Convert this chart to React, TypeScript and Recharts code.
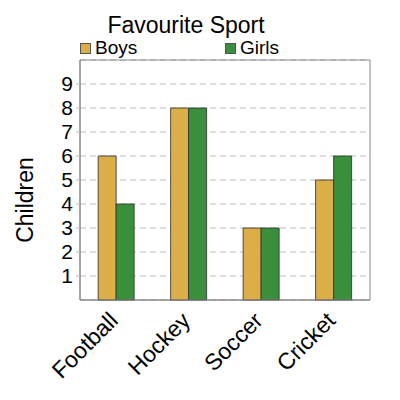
import React from 'react';
import { BarChart, Bar, XAxis, YAxis, CartesianGrid, ReferenceArea } from 'recharts';

const categories = ['Football', 'Hockey', 'Soccer', 'Cricket'];
const boys = [6, 8, 3, 5];
const girls = [4, 8, 3, 6];
const seriesNames = ['Boys', 'Girls'];
const seriesColors = ['#dcae48', '#3a8f3a'];
const yTicks = [1, 2, 3, 4, 5, 6, 7, 8, 9];
const title = 'Favourite Sport';
const yLabel = 'Children';

const data = categories.map((c, i) => ({ name: c, boys: boys[i], girls: girls[i] }));

const FONT = '"Liberation Sans", Arial, sans-serif';

const XTick = (props: any) => {
  const { x, y, payload } = props;
  return (
    <g transform={`translate(${x + 3},${y + 22})`}>
      <text x={0} y={0} textAnchor="end" transform="rotate(-45)" fontSize={23} fill="#000" fontFamily={FONT}>
        {payload.value}
      </text>
    </g>
  );
};

export default function App() {
  return (
    <div style={{ position: 'absolute', left: 0, top: 0, width: 400, height: 400, background: '#fff', fontFamily: FONT }}>
      <div style={{ position: 'absolute', left: 0, width: 372, top: 12, textAlign: 'center', fontSize: 23, lineHeight: '26px', color: '#000' }}>
        {title}
      </div>
      {seriesNames.map((n, i) => (
        <div key={n} style={{ position: 'absolute', left: 80 + i * 145, top: 37, height: 22, display: 'flex', alignItems: 'center', fontSize: 19, color: '#000' }}>
          <span style={{ display: 'inline-block', width: 9, height: 9, background: seriesColors[i], border: '1px solid #555', marginRight: 4 }} />
          <span>{n}</span>
        </div>
      ))}
      <BarChart width={400} height={400} data={data} margin={{ top: 60, right: 30, bottom: 0, left: 0 }} barCategoryGap="25%" barGap={0}>
        <CartesianGrid vertical={false} horizontal={true} stroke="#bbb" strokeDasharray="6 4" />
        <XAxis dataKey="name" height={100} tick={<XTick />} tickLine={false} tickSize={0} tickMargin={0} axisLine={{ stroke: '#888' }} interval={0} />
        <YAxis
          width={80}
          domain={[0, 10]}
          ticks={yTicks}
          interval={0}
          tick={{ fontSize: 21, fill: '#000', fontFamily: FONT }}
          tickSize={4}
          tickMargin={3}
          tickLine={{ stroke: '#bbb' }}
          axisLine={{ stroke: '#888' }}
          label={(p: any) => (
            <text x={33} y={200} transform="rotate(-90, 33, 200)" textAnchor="middle" fontSize={23} fill="#000" fontFamily={FONT}>
              {yLabel}
            </text>
          )}
        />
        <ReferenceArea y1={0} y2={10} fill="none" stroke="#888" strokeWidth={1} ifOverflow="visible" />
        <Bar dataKey="boys" name={seriesNames[0]} fill={seriesColors[0]} stroke="#333" strokeOpacity={0.85} isAnimationActive={false} />
        <Bar dataKey="girls" name={seriesNames[1]} fill={seriesColors[1]} stroke="#333" strokeOpacity={0.85} isAnimationActive={false} />
      </BarChart>
    </div>
  );
}
